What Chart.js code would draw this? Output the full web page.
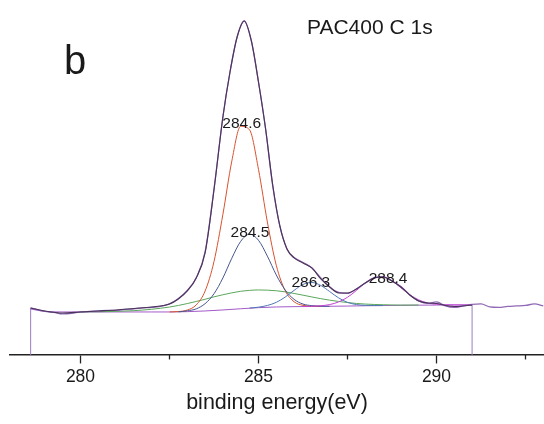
<!DOCTYPE html>
<html>
<head>
<meta charset="utf-8">
<script src="https://cdn.jsdelivr.net/npm/chart.js"></script>
<style>
  html, body { margin: 0; padding: 0; background: #fff; }
  #wrap { width: 544px; height: 424px; position: relative; }
</style>
</head>
<body>
<div id="wrap"><canvas id="xps"></canvas></div>
<script>
// PAC400 C 1s spectrum, binding energy (eV) vs intensity (a.u.)
const majorTicks = [280, 285, 290];
const minorTicks = [282.5, 287.5, 292.5];

// measured spectrum
const rawEnergy = [278.6, 279.0, 279.25, 279.5, 279.75, 280.0, 280.25, 280.5, 280.75, 281.0,
  281.25, 281.5, 281.75, 282.0, 282.25, 282.5, 282.75, 283.0, 283.25, 283.5,
  283.75, 284.0, 284.2, 284.4, 284.6, 284.8, 285.0, 285.2, 285.4, 285.6,
  285.8, 286.0, 286.25, 286.5, 286.75, 287.0, 287.25, 287.5, 287.75, 288.0,
  288.25, 288.5, 288.75, 289.0, 289.25, 289.5, 289.75, 290.0, 290.25, 290.5,
  290.75, 291.0, 291.25, 291.5, 291.75, 292.0, 292.25, 292.5, 292.75, 293.0];
const rawIntensity = [47, 43.5, 42.5, 41, 41.5, 43, 43.5, 44, 44.5, 44.5,
  45.5, 46, 47, 47.5, 48.5, 51, 56.5, 64.5, 77, 103,
  166, 238, 283, 318, 334, 314, 273, 226, 169, 129,
  106, 97.5, 92.5, 87, 77, 68, 62.5, 61.5, 66, 72,
  77, 78, 74, 68.5, 60, 54, 51.5, 53, 49, 47.5,
  49, 50.5, 51, 48, 47.5, 48.5, 49, 49.5, 51, 49];

// cumulative fit
const fitEnergy = [278.6, 279.0, 279.5, 280.0, 280.5, 281.0, 281.5, 282.0, 282.5, 282.75,
  283.0, 283.25, 283.5, 283.75, 284.0, 284.2, 284.4, 284.6, 284.8, 285.0,
  285.2, 285.4, 285.6, 285.8, 286.0, 286.25, 286.5, 286.75, 287.0, 287.25,
  287.5, 287.75, 288.0, 288.25, 288.5, 288.75, 289.0, 289.25, 289.5, 289.75,
  290.0, 290.25, 290.5, 290.75, 291.0];
const fitIntensity = [47, 44, 42, 43, 44, 45, 46.5, 48, 51, 56,
  64, 77, 102, 165, 238, 283, 318, 334, 314, 273,
  226, 170, 129, 106, 97, 92, 87, 76, 68, 62,
  62, 66, 72, 77, 78, 74, 68, 60, 54, 52,
  51.5, 49.5, 48.5, 49, 50];

// fit range ends (fit drops to zero outside)
const edgeEnergy = [278.6, 291.0];
const edgeIntensity = [47, 50];

// background
const bgEnergy = [278.6, 279.0, 279.5, 280, 281, 282, 282.5, 283, 283.5, 284, 284.5, 285,
  285.5, 286, 286.5, 287, 287.5, 288, 288.5, 289, 289.5, 290, 290.5, 291];
const bgIntensity = [46, 43.5, 43, 43, 43, 43, 43, 43.3, 44, 45, 46.2, 47.3,
  48, 48.3, 48.5, 48.7, 48.9, 49.2, 49.4, 49.6, 49.8, 49.9, 50, 50];

// fitted components (on top of background), null = not drawn
const compEnergy = [280, 280.5, 281, 281.5, 282, 282.5, 282.75, 283, 283.25, 283.5,
  283.75, 284, 284.25, 284.5, 284.75, 285, 285.25, 285.5, 285.75, 286,
  286.25, 286.5, 286.75, 287, 287.25, 287.5, 287.75, 288, 288.25, 288.5,
  288.75, 289, 289.25, 289.5, 289.75, 290, 290.25, 290.5, 290.75, 291];
const peak2846 = [null, null, null, null, null, 43, 43.4, 44.9, 50, 63.9,
  93.4, 140.6, 193.8, 228.7, 225.1, 185.6, 132.9, 89.6, 64.3, 53.2,
  49.6, 48.7, 48.6, null, null, null, null, null, null, null,
  null, null, null, null, null, null, null, null, null, null];
const peak2845 = [null, null, null, null, null, null, 43.1, 44.1, 46.1, 51.3,
  61.2, 77, 96.7, 113.6, 120.8, 114.7, 98.8, 80, 64.9, 55.6,
  50.9, 49.3, 48.8, 48.7, null, null, null, null, null, null,
  null, null, null, null, null, null, null, null, null, null];
const peakBroad = [43.1, 43.2, 43.6, 44.3, 45.7, 47.9, 49.5, 51.4, 53.5, 55.7,
  58.1, 60.2, 62.1, 63.7, 64.6, 65, 64.8, 64.2, 63.1, 61.5,
  59.8, 58, 56.3, 54.8, 53.5, 52.4, 51.5, 50.9, 50.5, 50.2,
  50, 49.9, 49.9, 49.9, null, null, null, null, null, null];
const peak2863 = [null, null, null, null, null, null, null, null, null, null,
  null, null, null, null, 46.9, 47.8, 49.5, 52.6, 57.9, 64.6,
  70.5, 72.5, 69.5, 63.4, 57.1, 52.6, 50.4, 49.6, 49.4, 49.4,
  null, null, null, null, null, null, null, null, null, null];
const peak2884 = [null, null, null, null, null, null, null, null, null, null,
  null, null, null, null, null, null, null, null, null, null,
  48.5, 48.7, 49.2, 50.4, 53, 57.7, 64.5, 72, 77.3, 78.1,
  74.1, 67.2, 60.2, 55.1, 52, 50.7, 50.2, 50.05, 50, 50];

// peak labels, anchored at the peak tops
const peakLabels = ['284.6', '284.5', '286.3', '288.4'];
const labelEnergy = [284.53, 284.76, 286.47, 288.64];
const labelIntensity = [231.7, 122, 72.5, 76.5];

const FONT = "'Liberation Sans', Arial, sans-serif";

function pts(xs, ys) {
  const out = [];
  xs.forEach((x, i) => { if (ys[i] !== null) out.push({ x: x, y: ys[i] }); });
  return out;
}

function line(data, color, width, extra) {
  return Object.assign({
    data: data,
    borderColor: color,
    borderWidth: width,
    pointRadius: 0,
    showLine: true,
    fill: false,
    cubicInterpolationMode: 'monotone'
  }, extra || {});
}

const textPlugin = {
  id: 'texts',
  afterDraw(chart) {
    const { ctx, scales: { x, y }, chartArea } = chart;
    ctx.save();
    // minor ticks (shorter)
    ctx.strokeStyle = '#222';
    ctx.lineWidth = 1.3;
    minorTicks.forEach(v => {
      const px = Math.round(x.getPixelForValue(v)) + 0.5;
      ctx.beginPath();
      ctx.moveTo(px, chartArea.bottom);
      ctx.lineTo(px, chartArea.bottom + 4.5);
      ctx.stroke();
    });
    // peak labels
    ctx.fillStyle = '#1a1a1a';
    ctx.font = '15.5px ' + FONT;
    ctx.textAlign = 'center';
    ctx.textBaseline = 'middle';
    peakLabels.forEach((t, i) => {
      ctx.fillText(t, x.getPixelForValue(labelEnergy[i]), y.getPixelForValue(labelIntensity[i]));
    });
    // panel letter and title
    ctx.textAlign = 'left';
    ctx.textBaseline = 'alphabetic';
    ctx.font = '40px ' + FONT;
    ctx.fillText('b', 64, 73.5);
    ctx.font = '21px ' + FONT;
    ctx.fillText('PAC400 C 1s', 307, 34);
    ctx.restore();
  }
};

const datasets = [
  line(pts(fitEnergy, fitIntensity), '#4a3458', 1.1),
  line(pts(rawEnergy, rawIntensity), '#9168b6', 1.3),
  line(pts(compEnergy, peak2884), '#c443d6', 1),
  line(pts(compEnergy, peak2863), '#4f78b6', 1),
  line(pts(compEnergy, peak2845), '#46568f', 1),
  line(pts(compEnergy, peak2846), '#d9512f', 1),
  line(pts(compEnergy, peakBroad), '#5aa75a', 1),
  line(pts(bgEnergy, bgIntensity), '#a35ac8', 1),
  line([{ x: edgeEnergy[0], y: 0 }, { x: edgeEnergy[0], y: edgeIntensity[0] }], '#9a7cc2', 1, { cubicInterpolationMode: 'default', tension: 0 }),
  line([{ x: edgeEnergy[1], y: 0 }, { x: edgeEnergy[1], y: edgeIntensity[1] }], '#9a7cc2', 1, { cubicInterpolationMode: 'default', tension: 0 })
];

new Chart(document.getElementById('xps'), {
  type: 'scatter',
  data: { datasets: datasets },
  options: {
    responsive: true,
    maintainAspectRatio: false,
    animation: false,
    devicePixelRatio: 1,
    layout: { padding: { left: 10, right: 0, top: 0, bottom: 0 } },
    plugins: { legend: { display: false }, tooltip: { enabled: false } },
    scales: {
      x: {
        type: 'linear',
        min: 278.02,
        max: 293.02,
        afterBuildTicks: s => { s.ticks = majorTicks.map(v => ({ value: v })); },
        ticks: {
          color: '#1a1a1a',
          padding: 4.4,
          font: { family: FONT, size: 17.5, lineHeight: 1.1 },
          callback: v => String(v)
        },
        grid: {
          drawOnChartArea: false,
          drawTicks: true,
          tickLength: 8.5,
          tickColor: '#222',
          tickWidth: 1.3
        },
        border: { display: true, color: '#222', width: 1.5 },
        title: {
          display: true,
          text: 'binding energy(eV)',
          color: '#1a1a1a',
          font: { family: FONT, size: 21.5, lineHeight: 1.0 },
          padding: { top: 0.5, bottom: 10.5 }
        }
      },
      y: {
        display: false,
        min: 0,
        max: 355
      }
    }
  },
  plugins: [textPlugin]
});
</script>
</body>
</html>
